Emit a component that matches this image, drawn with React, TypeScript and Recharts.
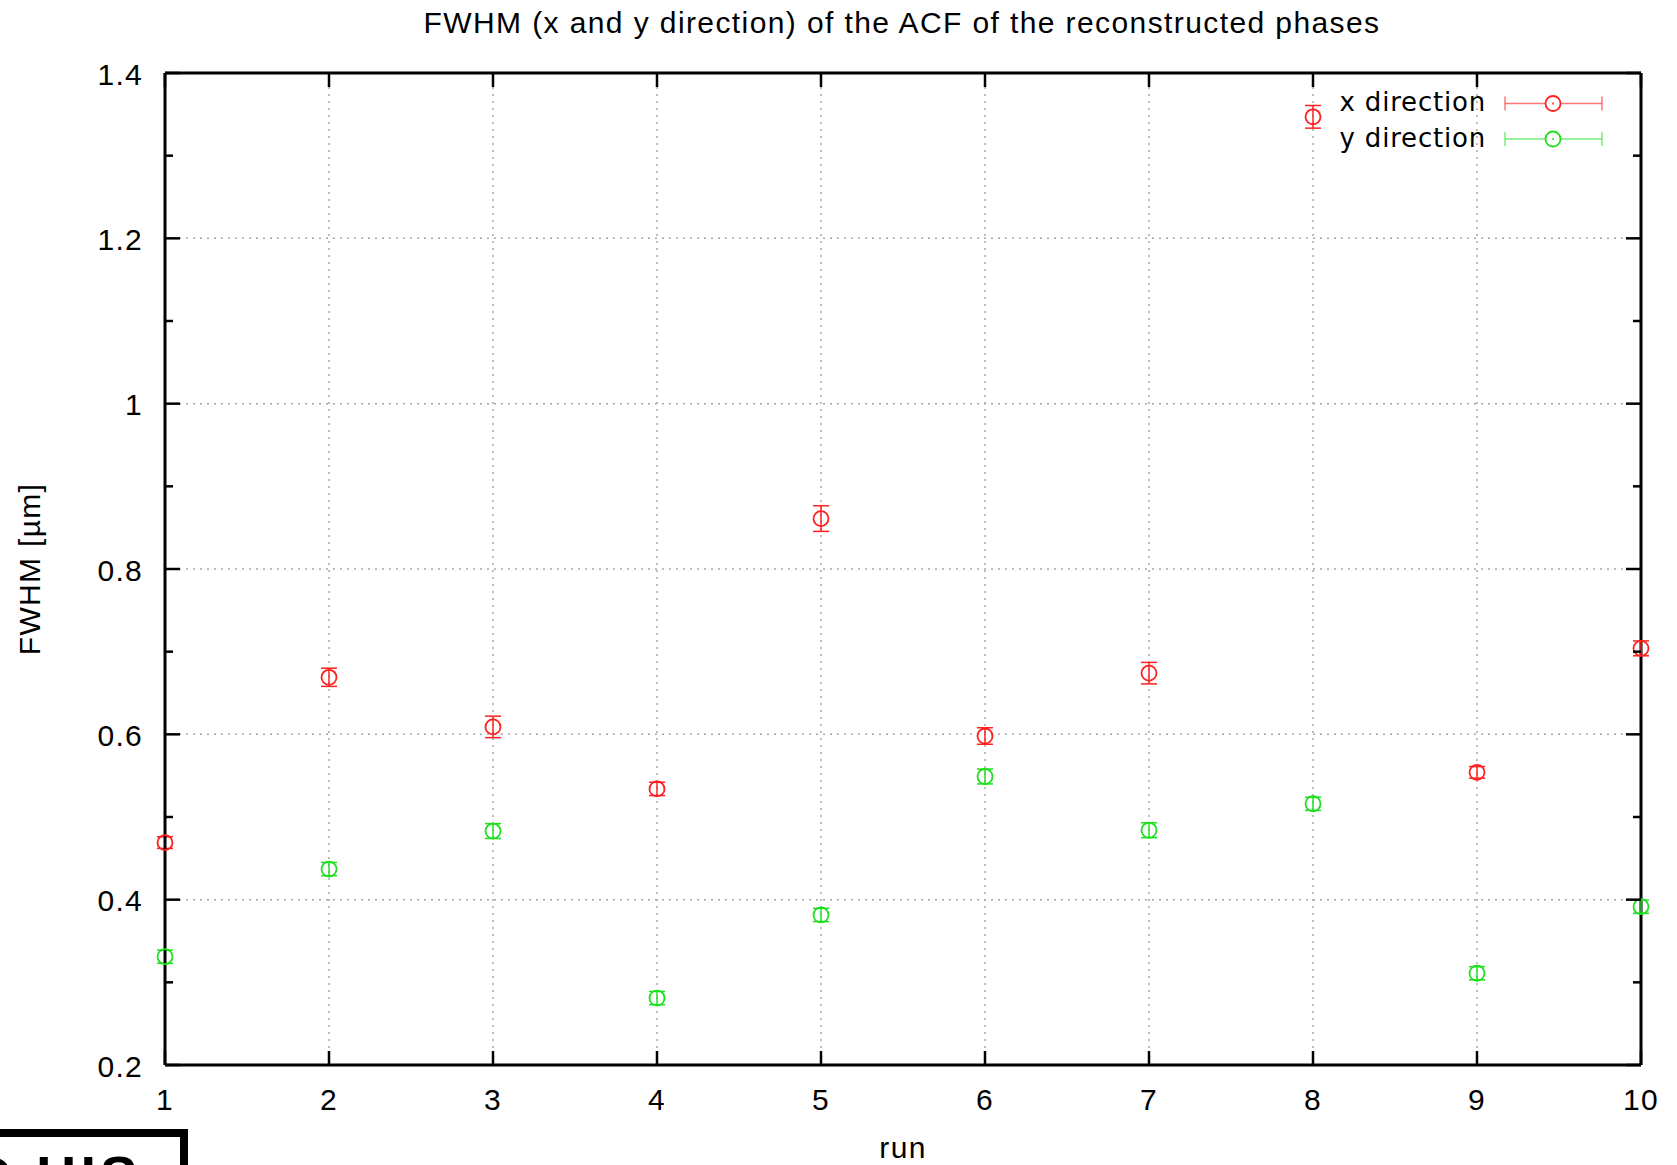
import React from 'react';
import { ScatterChart, Scatter, XAxis, YAxis, CartesianGrid, ErrorBar, ReferenceLine } from 'recharts';

// ---- data ----
const runs = [1, 2, 3, 4, 5, 6, 7, 8, 9, 10];
const xDirection = [0.469, 0.669, 0.609, 0.534, 0.861, 0.598, 0.674, 1.347, 0.554, 0.704];
const xDirectionErr = [0.007, 0.011, 0.013, 0.008, 0.0155, 0.01, 0.013, 0.0137, 0.007, 0.009];
const yDirection = [0.331, 0.437, 0.483, 0.281, 0.3815, 0.549, 0.484, 0.516, 0.311, 0.3915];
const yDirectionErr = [0.008, 0.008, 0.009, 0.008, 0.008, 0.009, 0.009, 0.008, 0.008, 0.008];
const yTicks = [0.2, 0.3, 0.4, 0.5, 0.6, 0.7, 0.8, 0.9, 1.0, 1.1, 1.2, 1.3, 1.4];
const yMajorTicks = [0.2, 0.4, 0.6, 0.8, 1.0, 1.2, 1.4];
const yTickLabels = ['0.2', '0.4', '0.6', '0.8', '1', '1.2', '1.4'];
const xTickLabels = ['1', '2', '3', '4', '5', '6', '7', '8', '9', '10'];
const seriesNames = ['x direction', 'y direction'];
const seriesColors = ['#ff2020', '#1ee01e'];
const titleText = 'FWHM (x and y direction) of the ACF of the reconstructed phases';
const xLabelText = 'run';
const yLabelText = 'FWHM [\u00b5m]';

// ---- layout ----
const W = 1677;
const H = 1165;
const PL = 165;
const PR = 1641;
const PT = 73;
const PB = 1065;
const FONT = '"Liberation Sans", Arial, Helvetica, sans-serif';
const LS = 1.3;

const xData = runs.map((r, i) => ({ run: r, v: xDirection[i], err: xDirectionErr[i] }));
const yData = runs.map((r, i) => ({ run: r, v: yDirection[i], err: yDirectionErr[i] }));

const YTick = (props: any) => {
  const { y, payload } = props;
  const v = payload.value;
  const idx = yMajorTicks.findIndex((m) => Math.abs(m - v) < 1e-6);
  const major = idx >= 0;
  const L = major ? 15 : 8;
  return (
    <g>
      <line x1={PL} x2={PL + L} y1={y} y2={y} stroke="#000" strokeWidth={2.5} />
      <line x1={PR} x2={PR - L} y1={y} y2={y} stroke="#000" strokeWidth={2.5} />
      {major && (
        <text x={PL - 22} y={y + 11.5} textAnchor="end" fontFamily={FONT} fontSize={30} letterSpacing={LS} fill="#000">
          {yTickLabels[idx]}
        </text>
      )}
    </g>
  );
};

const XTick = (props: any) => {
  const { x, payload } = props;
  const idx = runs.indexOf(payload.value);
  return (
    <g>
      <line x1={x} x2={x} y1={PB} y2={PB - 14} stroke="#000" strokeWidth={2.5} />
      <line x1={x} x2={x} y1={PT} y2={PT + 14} stroke="#000" strokeWidth={2.5} />
      <text x={x} y={1110} textAnchor="middle" fontFamily={FONT} fontSize={30} letterSpacing={LS} fill="#000">
        {xTickLabels[idx]}
      </text>
    </g>
  );
};

const makeShape = (color: string) => (props: any) => (
  <circle cx={props.cx} cy={props.cy} r={7.5} fill="none" stroke={color} strokeWidth={1.8} />
);

export default function App() {
  return (
    <div style={{ position: 'absolute', left: 0, top: 0, width: W, height: H, background: '#fff', overflow: 'hidden' }}>
      <ScatterChart
        width={W}
        height={H}
        margin={{ top: PT, right: W - PR, bottom: 40, left: PL - 100 }}
      >
        <CartesianGrid
          stroke="#a8a8a8"
          strokeWidth={1.5}
          strokeDasharray="2 5"
          horizontalValues={yMajorTicks}
          verticalValues={runs}
        />
        <XAxis
          type="number"
          dataKey="run"
          domain={[1, 10]}
          ticks={runs}
          interval={0}
          height={60}
          tickSize={0}
          tickMargin={0}
          tickLine={false}
          axisLine={{ stroke: '#000', strokeWidth: 3 }}
          tick={XTick}
        />
        <YAxis
          type="number"
          dataKey="v"
          domain={[0.2, 1.4]}
          ticks={yTicks}
          interval={0}
          width={100}
          tickSize={0}
          tickMargin={0}
          tickLine={false}
          axisLine={{ stroke: '#000', strokeWidth: 3 }}
          tick={YTick}
        />
        <ReferenceLine y={1.4} stroke="#000" strokeWidth={3} />
        <ReferenceLine x={10} stroke="#000" strokeWidth={3} />
        <Scatter name={seriesNames[0]} data={xData} shape={makeShape(seriesColors[0])} isAnimationActive={false}>
          <ErrorBar dataKey="err" direction="y" width={8} stroke={seriesColors[0]} strokeWidth={1.5} isAnimationActive={false} />
        </Scatter>
        <Scatter name={seriesNames[1]} data={yData} shape={makeShape(seriesColors[1])} isAnimationActive={false}>
          <ErrorBar dataKey="err" direction="y" width={8} stroke={seriesColors[1]} strokeWidth={1.5} isAnimationActive={false} />
        </Scatter>
      </ScatterChart>

      <svg width={W} height={H} style={{ position: 'absolute', left: 0, top: 0, pointerEvents: 'none' }}>
        <text x={902} y={33} textAnchor="middle" fontFamily={FONT} fontSize={30} letterSpacing={1.4} fill="#000">
          {titleText}
        </text>
        <text x={903} y={1158} textAnchor="middle" fontFamily={FONT} fontSize={30} letterSpacing={LS} fill="#000">
          {xLabelText}
        </text>
        <text
          transform="translate(40,569) rotate(-90)"
          textAnchor="middle"
          fontFamily={FONT}
          fontSize={30}
          letterSpacing={LS}
          fill="#000"
        >
          {yLabelText}
        </text>
        {seriesNames.map((name, i) => {
          const cy = 103.5 + i * 35.5;
          const c = seriesColors[i];
          return (
            <g key={name}>
              <text
                x={1486}
                y={cy}
                dominantBaseline="middle"
                textAnchor="end"
                fontFamily='"DejaVu Sans", sans-serif'
                fontSize={26}
                letterSpacing={0.8}
                fill="#000"
              >
                {name}
              </text>
              <line x1={1505} x2={1602} y1={cy} y2={cy} stroke={c} strokeWidth={1.5} opacity={0.6} />
              <line x1={1505} x2={1505} y1={cy - 7} y2={cy + 7} stroke={c} strokeWidth={1.5} opacity={0.6} />
              <line x1={1602} x2={1602} y1={cy - 7} y2={cy + 7} stroke={c} strokeWidth={1.5} opacity={0.6} />
              <circle cx={1553} cy={cy} r={7.5} fill="#fff" stroke={c} strokeWidth={1.8} />
              <line x1={1553} x2={1553} y1={cy - 1} y2={cy + 1} stroke={c} strokeWidth={1.5} />
            </g>
          );
        })}
      </svg>

      <div
        style={{
          position: 'absolute',
          left: -10,
          top: 1129,
          width: 198,
          height: 80,
          borderTop: '8px solid #000',
          borderRight: '8px solid #000',
          boxSizing: 'border-box',
          background: '#fff',
          overflow: 'hidden',
        }}
      >
        <div
          style={{
            position: 'absolute',
            left: -18,
            top: 11,
            fontFamily: FONT,
            fontWeight: 'bold',
            fontSize: 56,
            lineHeight: '56px',
            whiteSpace: 'nowrap',
            color: '#000',
            letterSpacing: 4,
          }}
        >
          D HIS
        </div>
      </div>
    </div>
  );
}
